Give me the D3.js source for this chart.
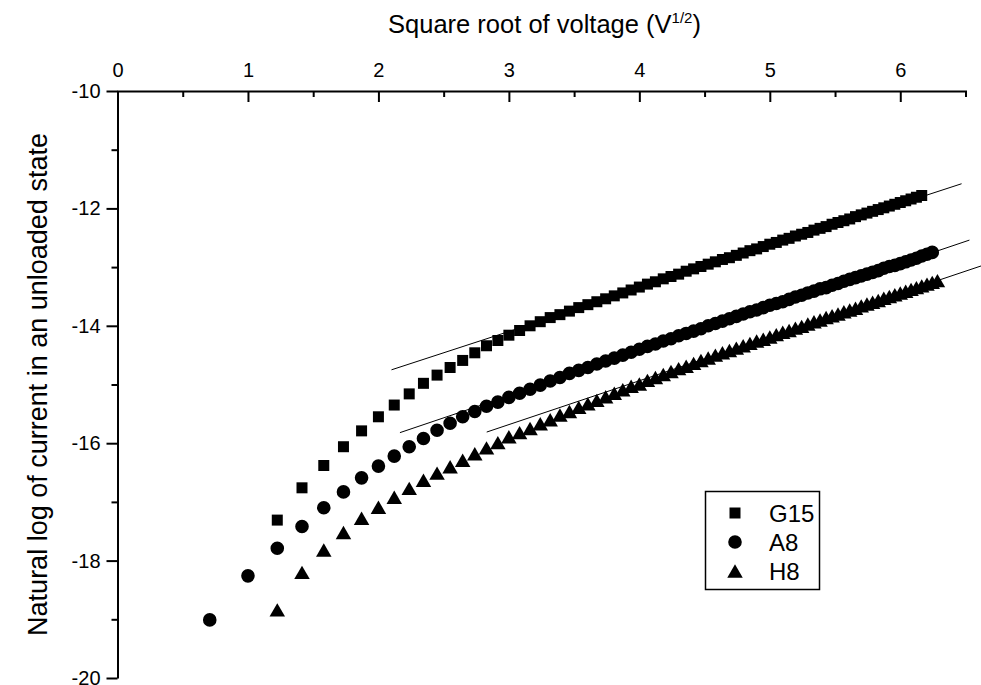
<!DOCTYPE html>
<html>
<head>
<meta charset="utf-8">
<script src="https://cdn.jsdelivr.net/npm/d3@7"></script>
<style>
  body { margin: 0; background: #fff; }
  svg { display: block; }
  text { font-family: "Liberation Sans", Arial, sans-serif; fill: #000; }
</style>
</head>
<body>
<svg id="chart" width="981" height="685"></svg>
<script>
// Applied voltage (V); the x axis shows its square root
const voltage = [
  0.5, 1, 1.5, 2, 2.5, 3, 3.5, 4, 4.5, 5, 5.5, 6, 6.5, 7, 7.5, 8, 8.5, 9, 9.5, 10,
  10.5, 11, 11.5, 12, 12.5, 13, 13.5, 14, 14.5, 15, 15.5, 16, 16.5, 17, 17.5, 18, 18.5, 19, 19.5, 20,
  20.5, 21, 21.5, 22, 22.5, 23, 23.5, 24, 24.5, 25, 25.5, 26, 26.5, 27, 27.5, 28, 28.5, 29, 29.5, 30,
  30.5, 31, 31.5, 32, 32.5, 33, 33.5, 34, 34.5, 35, 35.5, 36, 36.5, 37, 37.5, 38, 38.5, 39, 39.5
];

// ln(I) per sample, aligned with voltage (null = not measured)
const g15 = [
  null, null, -17.31, -16.76, -16.38, -16.06, -15.79, -15.55, -15.35, -15.16,
  -14.98, -14.84, -14.71, -14.59, -14.46, -14.34, -14.25, -14.16, -14.08, -14.00,
  -13.93, -13.86, -13.81, -13.75, -13.69, -13.64, -13.59, -13.54, -13.49, -13.44,
  -13.39, -13.34, -13.29, -13.25, -13.20, -13.16, -13.12, -13.07, -13.03, -12.99,
  -12.95, -12.91, -12.87, -12.84, -12.80, -12.76, -12.72, -12.69, -12.65, -12.61,
  -12.58, -12.54, -12.51, -12.47, -12.44, -12.41, -12.37, -12.34, -12.31, -12.27,
  -12.24, -12.21, -12.18, -12.14, -12.11, -12.08, -12.05, -12.02, -11.99, -11.96,
  -11.93, -11.90, -11.87, -11.84, -11.81, -11.78, null, null, null
];
const a8 = [
  -19.01, -18.26, -17.79, -17.42, -17.10, -16.83, -16.59, -16.39, -16.22, -16.06,
  -15.92, -15.78, -15.66, -15.55, -15.46, -15.37, -15.30, -15.22, -15.15, -15.08,
  -15.01, -14.94, -14.88, -14.81, -14.76, -14.71, -14.65, -14.60, -14.55, -14.50,
  -14.45, -14.40, -14.35, -14.31, -14.26, -14.22, -14.17, -14.13, -14.09, -14.05,
  -14.00, -13.96, -13.92, -13.88, -13.84, -13.80, -13.76, -13.73, -13.69, -13.65,
  -13.62, -13.59, -13.55, -13.51, -13.48, -13.44, -13.41, -13.37, -13.35, -13.31,
  -13.28, -13.24, -13.21, -13.18, -13.15, -13.12, -13.09, -13.06, -13.02, -12.99,
  -12.97, -12.94, -12.91, -12.88, -12.85, -12.81, -12.78, -12.75, null
];
const h8 = [
  null, null, -18.84, -18.20, -17.82, -17.52, -17.28, -17.09, -16.92, -16.77,
  -16.63, -16.51, -16.40, -16.29, -16.18, -16.08, -15.99, -15.89, -15.82, -15.75,
  -15.67, -15.60, -15.52, -15.46, -15.39, -15.33, -15.27, -15.21, -15.15, -15.09,
  -15.03, -14.99, -14.93, -14.88, -14.83, -14.78, -14.73, -14.69, -14.64, -14.59,
  -14.55, -14.50, -14.46, -14.42, -14.38, -14.34, -14.30, -14.26, -14.23, -14.19,
  -14.15, -14.11, -14.08, -14.04, -14.01, -13.97, -13.93, -13.90, -13.86, -13.83,
  -13.80, -13.76, -13.73, -13.70, -13.66, -13.63, -13.60, -13.57, -13.53, -13.50,
  -13.47, -13.44, -13.41, -13.38, -13.35, -13.32, -13.29, -13.26, -13.23
];

// Linear fits over the high-field part of each curve: [x start, x end] and [y start, y end]
const fitG15X = [2.10, 6.47], fitG15Y = [-14.75, -11.58];
const fitA8X  = [2.165, 6.53], fitA8Y  = [-15.82, -12.54];
const fitH8X  = [2.83, 6.62], fitH8Y  = [-15.81, -12.98];

const seriesNames = ["G15", "A8", "H8"];
const xTicks = [0, 1, 2, 3, 4, 5, 6];
const xMinorTicks = [0.5, 1.5, 2.5, 3.5, 4.5, 5.5, 6.5];
const yTicks = [-20, -18, -16, -14, -12, -10];
const yMinorTicks = [-19, -17, -15, -13, -11];

const svg = d3.select("#chart");

const x = d3.scaleLinear().domain([0, 6.5]).range([117.5, 965.5]);
const y = d3.scaleLinear().domain([-20, -10]).range([678, 91]);

// Marker shapes: filled square, circle and upward triangle centred on their box
const squareShape = { draw(ctx, size) { const s = Math.sqrt(size) / 2; ctx.rect(-s, -s, 2 * s, 2 * s); } };
const triangleShape = { draw(ctx, size) {
  const a = Math.sqrt(size), h = a * Math.sqrt(3) / 2;
  ctx.moveTo(0, -h / 2); ctx.lineTo(a / 2, h / 2); ctx.lineTo(-a / 2, h / 2); ctx.closePath();
} };
const markers = [
  d3.symbol().type(squareShape).size(11 * 11),
  d3.symbol().type(d3.symbolCircle).size(Math.PI * 6.8 * 6.8),
  d3.symbol().type(triangleShape).size(15.5 * 15.5)
];
const seriesValues = [g15, a8, h8];
const fits = [[fitG15X, fitG15Y], [fitA8X, fitA8Y], [fitH8X, fitH8Y]];

// Axes: x along the top with ticks pointing into the plot, y on the left
const axisX = d3.axisTop(x).tickValues(xTicks).tickFormat(d3.format("d"))
  .tickSizeInner(-11).tickSizeOuter(-6).tickPadding(14);
const gx = svg.append("g").attr("transform", `translate(0,${y(-10)})`).call(axisX);
gx.select(".domain").attr("stroke-width", 2);
gx.selectAll(".tick line").attr("stroke-width", 2);
gx.selectAll(".tick text").attr("font-size", 20).attr("font-family", "Liberation Sans, Arial, sans-serif");
const axisXMinor = d3.axisTop(x).tickValues(xMinorTicks).tickFormat("").tickSizeInner(-6).tickSizeOuter(0);
const gxm = svg.append("g").attr("transform", `translate(0,${y(-10)})`).call(axisXMinor);
gxm.select(".domain").remove();
gxm.selectAll(".tick line").attr("stroke-width", 2);

const axisY = d3.axisLeft(y).tickValues(yTicks).tickFormat(d3.format("d"))
  .tickSizeInner(11).tickSizeOuter(0).tickPadding(6);
const gy = svg.append("g").attr("transform", `translate(${x(0)},0)`).call(axisY);
gy.select(".domain").attr("stroke-width", 2);
gy.selectAll(".tick line").attr("stroke-width", 2);
gy.selectAll(".tick text").attr("font-size", 20).attr("font-family", "Liberation Sans, Arial, sans-serif")
  .text(d => d3.format("d")(d).replace("\u2212", "-"));
const axisYMinor = d3.axisLeft(y).tickValues(yMinorTicks).tickFormat("").tickSizeInner(6).tickSizeOuter(0);
const gym = svg.append("g").attr("transform", `translate(${x(0)},0)`).call(axisYMinor);
gym.select(".domain").remove();
gym.selectAll(".tick line").attr("stroke-width", 2);

// Axis titles
const xt = svg.append("text").attr("x", (x(0) + x(6.5)) / 2 + 3).attr("y", 33)
  .attr("text-anchor", "middle").attr("font-size", 25.5);
xt.append("tspan").text("Square root of voltage (V");
xt.append("tspan").attr("font-size", 15).attr("dy", -10).text("1/2");
xt.append("tspan").attr("dy", 10).text(")");

svg.append("text")
  .attr("transform", `translate(47,${(y(-10) + y(-20)) / 2}) rotate(-90)`)
  .attr("text-anchor", "middle").attr("font-size", 27)
  .text("Natural log of current in an unloaded state");

// Fit lines
fits.forEach(([fx, fy]) => {
  svg.append("line")
    .attr("x1", x(fx[0])).attr("y1", y(fy[0]))
    .attr("x2", x(fx[1])).attr("y2", y(fy[1]))
    .attr("stroke", "#000").attr("stroke-width", 1);
});

// Data markers
seriesValues.forEach((vals, i) => {
  const pts = voltage.map((v, j) => ({ v, ln: vals[j] })).filter(d => d.ln !== null);
  svg.append("g").selectAll("path").data(pts).join("path")
    .attr("transform", d => `translate(${x(Math.sqrt(d.v))},${y(d.ln)})`)
    .attr("d", markers[i]())
    .attr("fill", "#000");
});

// Legend
const lg = svg.append("g");
lg.append("rect").attr("x", 705.5).attr("y", 491.5).attr("width", 114).attr("height", 98)
  .attr("fill", "#fff").attr("stroke", "#000").attr("stroke-width", 1.5);
seriesNames.forEach((name, i) => {
  const cy = 513 + i * 29;
  lg.append("path").attr("transform", `translate(735,${cy})`).attr("d", markers[i]()).attr("fill", "#000");
  lg.append("text").attr("x", 769).attr("y", cy + 8.5).attr("font-size", 24).text(name);
});
</script>
</body>
</html>
